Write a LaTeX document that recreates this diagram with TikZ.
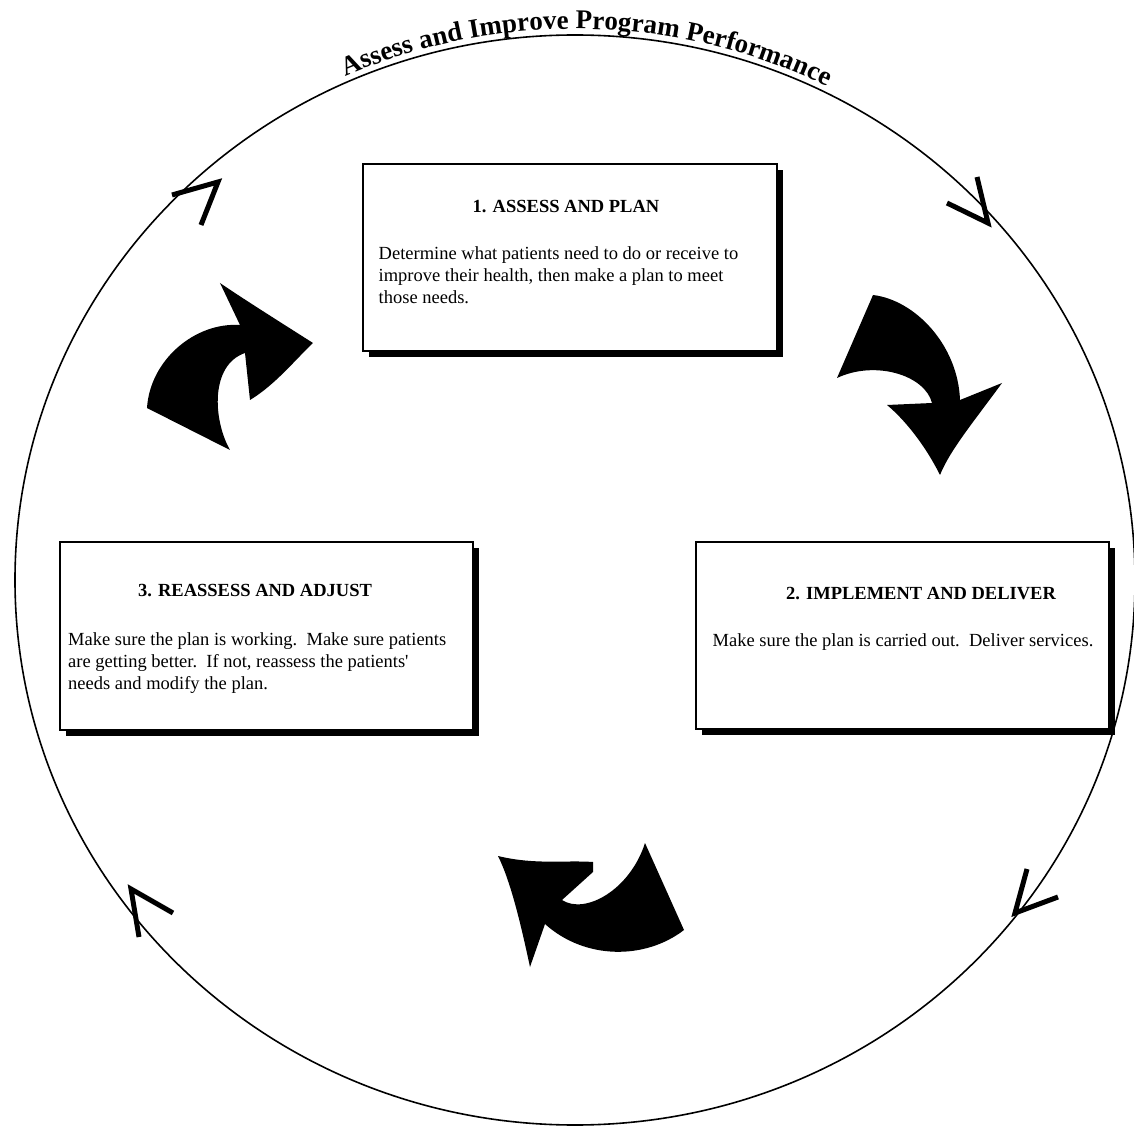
\documentclass[tikz,border=0pt]{standalone}
\usepackage{fontspec}
\setmainfont{Liberation Serif}
\usepackage{tikz}
\usetikzlibrary{positioning,shadows,decorations.text}

\newcommand{\bodysize}{\fontsize{18.5}{22}\selectfont}
\newcommand{\titlefont}{\fontsize{27}{30}\selectfont\bfseries}

\begin{document}
\begin{tikzpicture}[x=1pt, y=1pt,
    stage/.style={draw, line width=2pt, fill=white, minimum width=413pt, minimum height=187pt, inner sep=0pt,
        drop shadow={shadow xshift=6pt, shadow yshift=-6pt, opacity=1, fill=black}},
    head/.style={inner sep=0pt, font=\bfseries\bodysize},
    body/.style={inner sep=0pt, align=left, font=\bodysize},
    cycleline/.style={line width=1.6pt},
    chevron/.style={line width=5pt},
    bigarrow/.style={fill=black}]
    \useasboundingbox (-575,-549) rectangle (559,580);

    \draw [cycleline] (0,0) ellipse [x radius=560, y radius=545];

    \path [decorate, decoration={text along path, text align=center,
        text={|\titlefont|Assess and Improve Program Performance}}]
        (115:566 and 551) arc [start angle=115, end angle=62.5, x radius=566, y radius=551];

    % open arrowheads on the ring
    \draw [chevron] (-403,385) -- (-357,398) -- (-374,355);
    \draw [chevron] (402,403) -- (413,357) -- (372,377);
    \draw [chevron] (452,-289) -- (440,-333) -- (483,-317);
    \draw [chevron] (-402,-333) -- (-444,-309) -- (-436,-357);

    \node [stage] (box1) at (-5,322) {};
    \node [stage] (box2) at (327,-55.5) {};
    \node [stage] (box3) at (-308.5,-56) {};

    \node [head, below=36.5pt of box1.north, xshift=-4pt] (head1) {1. ASSESS AND PLAN};
    \node [body, below right=83pt and 16pt of box1.north west] (text1)
        {Determine what patients need to do or receive to\\improve their health, then make a plan to meet\\those needs.};

    \node [head, below=46.5pt of box2.north, xshift=19pt] (head2) {2. IMPLEMENT AND DELIVER};
    \node [body, below right=92pt and 18pt of box2.north west] (text2)
        {Make sure the plan is carried out.\ \ Deliver services.};

    \node [head, below=42.5pt of box3.north, xshift=-11.5pt] (head3) {3. REASSESS AND ADJUST};
    \node [body, below right=91pt and 9pt of box3.north west] (text3)
        {Make sure the plan is working.\ \ Make sure patients\\are getting better.\ \ If not, reassess the patients\textquotesingle\\needs and modify the plan.};

    % curved arrows between the stages
    \fill [bigarrow] (-262,237) .. controls (-295,258) and (-330,280) .. (-355,297)
        -- (-335,255) .. controls (-380,258) and (-425,220) .. (-428,172)
        -- (-345,130) .. controls (-362,160) and (-365,215) .. (-330,227)
        -- (-325,180) .. controls (-300,195) and (-280,220) .. cycle;
    \fill [bigarrow] (298,285) .. controls (340,280) and (383,235) .. (385,180)
        -- (427,197) .. controls (400,160) and (375,130) .. (365,105)
        .. controls (350,135) and (330,160) .. (312,175)
        -- (357,177) .. controls (350,205) and (300,220) .. (262,202)
        -- cycle;
    \fill [bigarrow] (70,-263) -- (109,-350)
        .. controls (70,-380) and (10,-380) .. (-30,-344)
        -- (-45,-387) .. controls (-55,-340) and (-65,-300) .. (-77,-276)
        .. controls (-40,-285) and (-10,-280) .. (18,-282)
        -- (18,-292) -- (-13,-320)
        .. controls (10,-335) and (55,-310) .. cycle;

\end{tikzpicture}
\end{document}
